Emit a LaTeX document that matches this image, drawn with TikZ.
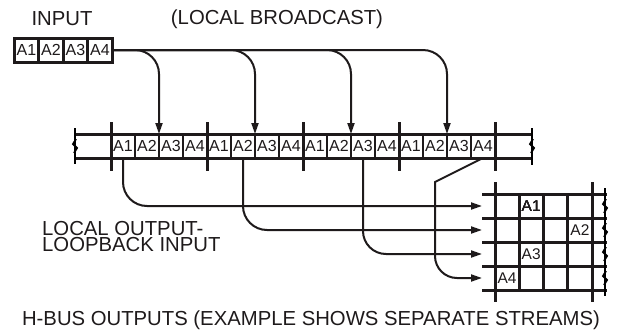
\documentclass[tikz,border=0pt]{standalone}
\usepackage{fontspec}
\setmainfont{Liberation Sans}
\usetikzlibrary{arrows.meta,positioning}
\tikzset{
  >={Triangle[length=11pt,width=7pt]},
  every node/.append style={font=\fontsize{16}{16}\selectfont, text=ink},
}
\tikzset{
  cell/.style={minimum width=24pt, minimum height=24pt, inner sep=0pt, outer sep=0pt},
  frame/.style={minimum width=96pt, minimum height=24pt, inner sep=0pt, outer sep=0pt},
  title/.style={font=\fontsize{20.3}{17}\selectfont, align=left, inner sep=0pt}
}
\newcommand\busbreak[2]{%
  \draw[line width=1.8pt] (#1+1,#2-7) -- (#1-2,#2-2) -- (#1+2,#2+2) -- (#1-1,#2+7);}

\begin{document}
\begin{tikzpicture}[
    x=1pt, y=-1pt,
    >={Triangle[length=11pt,width=7pt]},
    wire/.style={line width=3pt, draw=ink},
    thin/.style={line width=2.2pt, draw=ink},
    feed/.style={->, line width=2pt, draw=ink, rounded corners=24pt},
    inbox/.style={cell, draw=ink, line width=3pt, minimum width=24.5pt}
]
% Colour definitions
\definecolor{ink}{RGB}{30,26,27}
\useasboundingbox (0,0) rectangle (625,333);

% Titles
\node[title] (tin) at (62,19) {INPUT};
\node[title] (tbc) at (277,19) {(LOCAL BROADCAST)};
\node[title, anchor=base west] (tloop) at (42,235) {LOCAL OUTPUT-};
\node[title, anchor=base west] (tloopb) at (42,251.5) {LOOPBACK INPUT};
\node[title] (thbus) at (311,320) {H-BUS OUTPUTS (EXAMPLE SHOWS SEPARATE STREAMS)};

% Input word
\node[inbox] (i1) at (26.5,50) {A1};
\node[inbox, right=0pt of i1] (i2) {A2};
\node[inbox, right=0pt of i2] (i3) {A3};
\node[inbox, right=0pt of i3] (i4) {A4};

% Bus frames and slots
\foreach \f in {1,...,4}
  \node[frame] (f\f) at (63+96*\f,146) {};
\foreach \k in {1,...,16} {
  \pgfmathtruncatemacro\n{mod(\k-1,4)+1}
  \node[cell] (b\k) at (99+24*\k,146) {A\n};
}
\draw[wire] (75,134) -- (532,134) (75,158) -- (532,158);
\foreach \x in {135,159,183,231,255,279,327,351,375,423,447,471}
  \draw[thin] (\x,134) -- (\x,158);
\foreach \x in {111,207,303,399,495}
  \draw[wire] (\x,122) -- (\x,171);
\draw[line width=1.3pt] (75,128) -- (75,164) (532,128) -- (532,165);
\busbreak{75}{146}
\busbreak{532}{146}

% Output streams
\coordinate (r1) at (482,206);
\coordinate (r2) at (482,230);
\coordinate (r3) at (482,254);
\coordinate (r4) at (482,278);
\foreach \x in {519.25,543.5,567.75}
  \draw[wire] (\x,194) -- (\x,290);
\draw[wire] (495,182) -- (495,302) (592,182) -- (592,302);
\foreach \y in {194,218,242,266,290}
  \draw[wire] (482,\y) -- (607,\y);
\draw[line width=1.3pt] (605,188) -- (605,296);
\foreach \y in {206,230,254,278}
  \busbreak{605}{\y}
\node[cell, font=\fontsize{15.5}{15}\selectfont] (g1) at (531.2,206.5) {A1};
\node[cell, font=\fontsize{15.5}{15}\selectfont] (g2) at (579.9,230) {A2};
\node[cell, font=\fontsize{15.5}{15}\selectfont] (g3) at (531.2,254) {A3};
\node[cell, font=\fontsize{15.5}{15}\selectfont] (g4) at (507.1,278) {A4};

% Broadcast arrows
\draw[feed] (i4.east) -| (f1.north);
\draw[feed] (i4.east) -| (f2.north);
\draw[feed] (i4.east) -| (f3.north);
\draw[feed] (i4.east) -| (f4.north);

% Loopback arrows
\draw[feed] (b1.south) |- (r1);
\draw[feed] (b6.south) |- (r2);
\draw[feed, rounded corners=23pt] (b11.south) |- (r3);
\draw[feed, sharp corners] (b16.south) -- (435,182) -- (435,250) [rounded corners=22pt] |- (r4);
\end{tikzpicture}
\end{document}
